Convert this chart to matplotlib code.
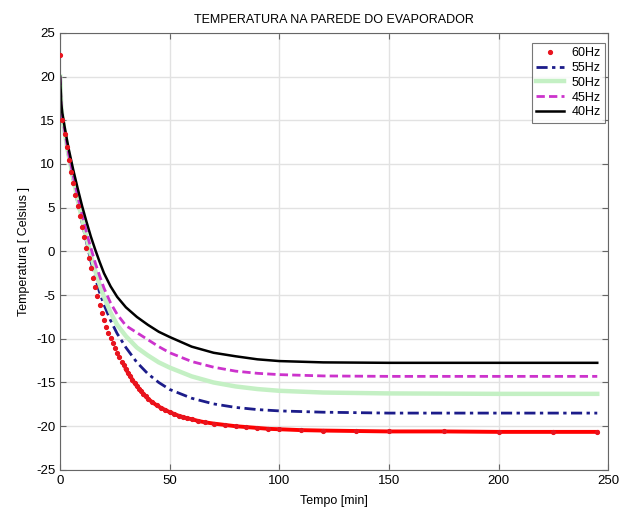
import numpy as np
import matplotlib.pyplot as plt

plt.rcParams['font.family'] = ['Liberation Sans', 'DejaVu Sans']
plt.rcParams['axes.unicode_minus'] = False

# 60 Hz run, logged roughly every minute at the start
t_60 = [0, 1, 2, 3, 4, 5, 6, 7, 8, 9, 10, 11, 12, 13, 14, 15, 16, 17, 18, 19,
        20, 21, 22, 23, 24, 25, 26, 27, 28, 29, 30, 31, 32, 33, 34, 35, 36, 37, 38, 39,
        40, 42, 44, 46, 48, 50, 52, 54, 56, 58, 60, 63, 66, 70, 75, 80, 85, 90, 95, 100,
        110, 120, 135, 150, 175, 200, 225, 245]
temp_60 = [22.5, 15.0, 13.4, 11.9, 10.5, 9.1, 7.8, 6.5, 5.2, 4.0, 2.8, 1.6, 0.4, -0.8, -1.9, -3.0, -4.1, -5.1, -6.1, -7.0,
           -7.8, -8.6, -9.3, -9.9, -10.5, -11.1, -11.6, -12.1, -12.6, -13.0, -13.5, -13.9, -14.3, -14.7, -15.1, -15.4, -15.7, -16.0, -16.3, -16.6,
           -16.85, -17.25, -17.6, -17.9, -18.15, -18.4, -18.6, -18.8, -18.95, -19.1, -19.2, -19.4, -19.55, -19.7, -19.85, -20.0, -20.1, -20.2, -20.3, -20.35,
           -20.45, -20.5, -20.55, -20.6, -20.6, -20.65, -20.65, -20.65]

# other frequencies share one time base
t_min = [0, 0.5, 1, 2, 3, 4, 6, 8, 10, 12, 14, 16, 18, 20, 23, 26, 30, 35, 40, 45,
         50, 60, 70, 80, 90, 100, 120, 150, 200, 245]
temp_55 = [20.0, 16.5, 15.2, 13.5, 12.0, 10.6, 8.0, 5.6, 3.3, 1.1, -1.1, -3.0, -4.7, -6.1, -7.9, -9.4, -11.0, -12.7, -14.0, -15.0,
           -15.8, -16.8, -17.45, -17.85, -18.1, -18.25, -18.4, -18.5, -18.5, -18.5]
temp_50 = [20.0, 16.6, 15.4, 13.7, 12.2, 10.8, 8.3, 5.9, 3.7, 1.6, -0.4, -2.2, -3.8, -5.2, -7.0, -8.4, -9.7, -11.0, -11.9, -12.7,
           -13.3, -14.3, -15.0, -15.45, -15.75, -15.95, -16.15, -16.25, -16.3, -16.3]
temp_45 = [20.0, 16.7, 15.5, 13.9, 12.4, 11.0, 8.6, 6.3, 4.2, 2.2, 0.4, -1.3, -2.8, -4.2, -5.9, -7.2, -8.5, -9.3, -10.1, -10.9,
           -11.6, -12.6, -13.25, -13.7, -13.95, -14.1, -14.25, -14.3, -14.3, -14.3]
temp_40 = [20.0, 16.9, 15.8, 14.3, 12.9, 11.6, 9.3, 7.2, 5.2, 3.4, 1.7, 0.2, -1.2, -2.5, -4.0, -5.2, -6.4, -7.5, -8.4, -9.2,
           -9.8, -10.9, -11.6, -12.0, -12.35, -12.55, -12.7, -12.75, -12.75, -12.75]

fig = plt.figure(figsize=(6.2, 5.13), dpi=100)
ax = fig.add_axes([0.097, 0.084, 0.884, 0.852])

t60 = np.array(t_60)
y60 = np.array(temp_60)
tail = t60 >= 30
ax.plot(t60[tail], y60[tail], color='red', lw=2.8, zorder=2)
ax.plot(t60, y60, '.', color='#e8141e', ms=5.5, label='60Hz', zorder=3)
ax.plot(t_min, temp_55, color='#1c1c8a', lw=2, dashes=(4, 1.6, 1.2, 1.6), label='55Hz')
ax.plot(t_min, temp_50, '-', color='#c4f0c4', lw=3.2, label='50Hz')
ax.plot(t_min, temp_45, color='#cc33cc', lw=2, dashes=(3, 1.5), label='45Hz')
ax.plot(t_min, temp_40, '-', color='black', lw=1.8, label='40Hz')

ax.set_xlim(0, 250)
ax.set_ylim(-25, 25)
ax.set_xticks(np.arange(0, 251, 50))
ax.set_yticks(np.arange(-25, 26, 5))
ax.grid(True, color='#e2e2e2', lw=1)
ax.set_axisbelow(True)
ax.tick_params(direction='in', top=True, right=True, labelsize=9.5, length=4, color='#666666')
for s in ax.spines.values():
    s.set_color('#666666')

ax.set_title('TEMPERATURA NA PAREDE DO EVAPORADOR', fontsize=9, pad=7)
ax.set_xlabel('Tempo [min]', fontsize=9, labelpad=6)
ax.set_ylabel('Temperatura [ Celsius ]', fontsize=9, labelpad=4)

leg = ax.legend(loc='upper right', bbox_to_anchor=(0.994, 0.977), fontsize=9,
                frameon=True, fancybox=False, edgecolor='#555555',
                handlelength=2.2, borderaxespad=0, labelspacing=0.22,
                handletextpad=0.6, borderpad=0.35)
leg.get_frame().set_linewidth(0.8)

fig.savefig('out.png', dpi=100)
